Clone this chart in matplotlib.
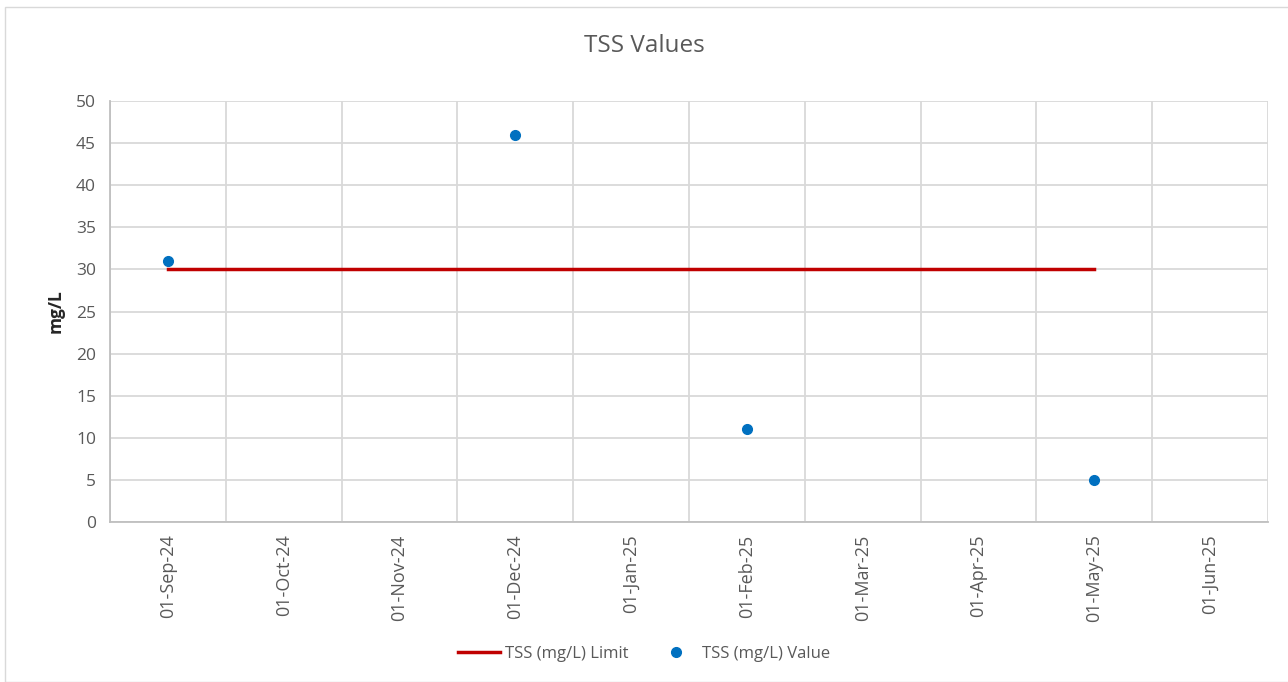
import numpy as np
import matplotlib.pyplot as plt
import matplotlib as mpl
from matplotlib.patches import Rectangle

mpl.rcParams.update({
    'font.family': ['Open Sans', 'DejaVu Sans'],
    'font.size': 11,
    'text.color': '#595959',
    'xtick.color': '#595959',
    'ytick.color': '#595959',
})

CATEGORIES = ['01-Sep-24', '01-Oct-24', '01-Nov-24', '01-Dec-24', '01-Jan-25',
              '01-Feb-25', '01-Mar-25', '01-Apr-25', '01-May-25', '01-Jun-25']
SAMPLE_DATES = ['01-Sep-24', '01-Dec-24', '01-Feb-25', '01-May-25']
TSS_VALUE = [31, 46, 11, 5]
TSS_LIMIT = [30, 30, 30, 30]
Y_TICKS = [0, 5, 10, 15, 20, 25, 30, 35, 40, 45, 50]

GRID = '#d9d9d9'

fig = plt.figure(figsize=(12.88, 6.82), dpi=100)
fig.patches.append(Rectangle((5 / 1288, 0), 1, 1 - 7 / 682, transform=fig.transFigure,
                             fill=False, edgecolor='#d9d9d9', linewidth=1.0))
ax = fig.add_axes([110 / 1288, 160 / 682, 1158 / 1288, 421 / 682])

idx = [CATEGORIES.index(d) for d in SAMPLE_DATES]
ax.plot(idx, TSS_LIMIT, color='#c00000', linewidth=2.5, label='TSS (mg/L) Limit', zorder=3)
ax.plot(idx, TSS_VALUE, linestyle='none', marker='o', markersize=7,
        color='#0070c0', label='TSS (mg/L) Value', zorder=4)

ax.set_xlim(-0.5, len(CATEGORIES) - 0.5)
ax.set_ylim(0, 50)
ax.set_yticks(Y_TICKS)
ax.set_xticks(np.arange(len(CATEGORIES)))
ax.set_xticklabels(CATEGORIES, rotation=90, fontsize=13)
ax.set_xticks(np.arange(len(CATEGORIES) + 1) - 0.5, minor=True)
ax.tick_params(axis='y', labelsize=12.5, length=0, pad=10)
ax.tick_params(axis='x', which='both', length=0, pad=9)
ax.grid(True, axis='y', color=GRID, linewidth=1.3)
ax.grid(True, axis='x', which='minor', color=GRID, linewidth=1.3)
ax.set_axisbelow(True)
for s in ['top', 'right']:
    ax.spines[s].set_visible(False)
for s in ['left', 'bottom']:
    ax.spines[s].set_color('#bfbfbf')
    ax.spines[s].set_linewidth(1.3)

ax.set_ylabel('mg/L', fontsize=12.5, fontweight='bold', color='#262626', labelpad=8)
fig.text(0.5, 1 - 46 / 682, 'TSS Values', ha='center', va='center', fontsize=17.5)

fig.legend(loc='center', bbox_to_anchor=(0.5, 1 - 654 / 682), ncol=2, frameon=False,
           fontsize=12, handlelength=2.5, handletextpad=0.3, columnspacing=1.6)

fig.savefig('out.png', dpi=100)
